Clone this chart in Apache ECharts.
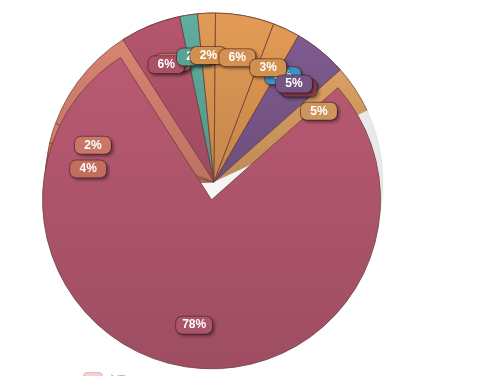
<!DOCTYPE html>
<html>
<head>
<meta charset="utf-8">
<script src="https://cdn.jsdelivr.net/npm/echarts@6/dist/echarts.min.js"></script>
<style>
  html, body { margin: 0; padding: 0; background: #fff; }
  #pieChart { width: 478px; height: 376px; }
</style>
</head>
<body>
<div id="pieChart"></div>
<script>
// front pie: the main slices (percent shares, clockwise from the big slice)
const frontNames = ["主要", "品类B", "品类C", "品类D", "品类E", "品类F", "品类G"];
const frontValues = [77.5, 5.8, 1.7, 1.7, 5.6, 2.6, 5.1];
const frontColors = ["#b85a72", "#b5566e", "#5fae9f", "#e29b55", "#e39c57", "#e39a54", "#7f5b90"];

// back pie: slices that show through around the pulled-out slice
const backNames = ["蓝", "深红", "棕黄", "灰", "橙红1", "橙红2", "橙红3", "橙红4", "其他"];
const backValues = [2.2, 2.8, 5.0, 56.4, 4.2, 1.9, 11.9, 4.4, 11.1];
const backColors = ["#3f9fd6", "#a0465f", "#dba064", "#ebebeb", "#d27564", "#d98070", "#da8573", "#d67a69", "#e39c57"];
const backShowLabel = [true, true, true, false, true, true, false, true, false];

const legendNames = ["主要"];

const center = [214, 182];
const radius = 169;

const labelStyle = (bg) => ({
  show: true,
  position: "inside",
  formatter: (p) => Math.round(p.percent) + "%",
  color: "#fff",
  fontWeight: "bold",
  fontSize: 12,
  lineHeight: 13,
  width: 24,
  overflow: "none",
  align: "center",
  padding: [2, 6],
  borderRadius: 6,
  backgroundColor: bg,
  borderColor: "rgba(70,30,30,0.55)",
  borderWidth: 1,
  shadowColor: "rgba(0,0,0,0.35)",
  shadowBlur: 3,
  shadowOffsetX: 2,
  shadowOffsetY: 2
});

const darken = (hex, k) => {
  const n = parseInt(hex.slice(1), 16);
  const r = Math.round(((n >> 16) & 255) * k);
  const g = Math.round(((n >> 8) & 255) * k);
  const b = Math.round((n & 255) * k);
  return "rgb(" + r + "," + g + "," + b + ")";
};

const shade = (c) => ({
  type: "linear", x: 0, y: 0, x2: 0, y2: 1,
  colorStops: [{ offset: 0, color: c }, { offset: 1, color: darken(c, 0.86) }]
});

// the uncovered grey part: lighter at the middle of the pie
const greyFill = {
  type: "radial", x: center[0], y: center[1], r: radius, global: true,
  colorStops: [{ offset: 0, color: "#f6f6f6" }, { offset: 1, color: "#e8e8e8" }]
};

const frontData = frontNames.map((name, i) => ({
  name,
  value: frontValues[i],
  selected: i === 0,
  itemStyle: { color: shade(frontColors[i]) }
}));

const frontLabelData = frontNames.map((name, i) => ({
  name: name + " ",
  value: frontValues[i],
  selected: i === 0,
  label: labelStyle(darken(frontColors[i], 0.93))
}));

const backData = backNames.map((name, i) => ({
  name,
  value: backValues[i],
  itemStyle: i === 3
    ? { color: greyFill, borderColor: "#e2e2e2" }
    : { color: shade(backColors[i]) }
}));

const backLabelData = backNames.map((name, i) => ({
  name: name + " ",
  value: backValues[i],
  label: backShowLabel[i] ? labelStyle(darken(backColors[i], 0.93)) : { show: false }
}));

const pieBase = {
  type: "pie",
  center,
  clockwise: true,
  selectedMode: "single",
  selectedOffset: 18,
  avoidLabelOverlap: false,
  labelLayout: { hideOverlap: false },
  silent: true,
  labelLine: { show: false }
};

const option = {
  animation: false,
  legend: {
    left: 78,
    bottom: -16,
    itemWidth: 19,
    itemHeight: 14,
    data: legendNames.map((n) => ({
      name: n,
      itemStyle: { color: "#f3d3d3", borderColor: "#e6b9b9", borderWidth: 1 }
    })),
    textStyle: { color: "#999", fontSize: 9 }
  },
  series: [
    {
      ...pieBase,
      name: "back",
      z: 1,
      radius: [0, radius],
      startAngle: 61,
      label: { show: false },
      itemStyle: { borderColor: "#7a4b3c", borderWidth: 0.8 },
      data: backData
    },
    {
      ...pieBase,
      name: "front",
      z: 2,
      radius: [0, radius],
      startAngle: 41.6,
      label: { show: false },
      itemStyle: { borderColor: "#6e3f38", borderWidth: 0.8 },
      data: frontData
    },
    {
      ...pieBase,
      name: "backLabels",
      z: 5,
      radius: [78, radius],
      startAngle: 61,
      itemStyle: { color: "rgba(0,0,0,0)", borderWidth: 0 },
      data: backLabelData
    },
    {
      ...pieBase,
      name: "frontLabels",
      z: 6,
      radius: [78, radius],
      startAngle: 41.6,
      itemStyle: { color: "rgba(0,0,0,0)", borderWidth: 0 },
      data: frontLabelData
    }
  ]
};

const myChart = echarts.init(document.getElementById("pieChart"));
myChart.setOption(option);
</script>
</body>
</html>
